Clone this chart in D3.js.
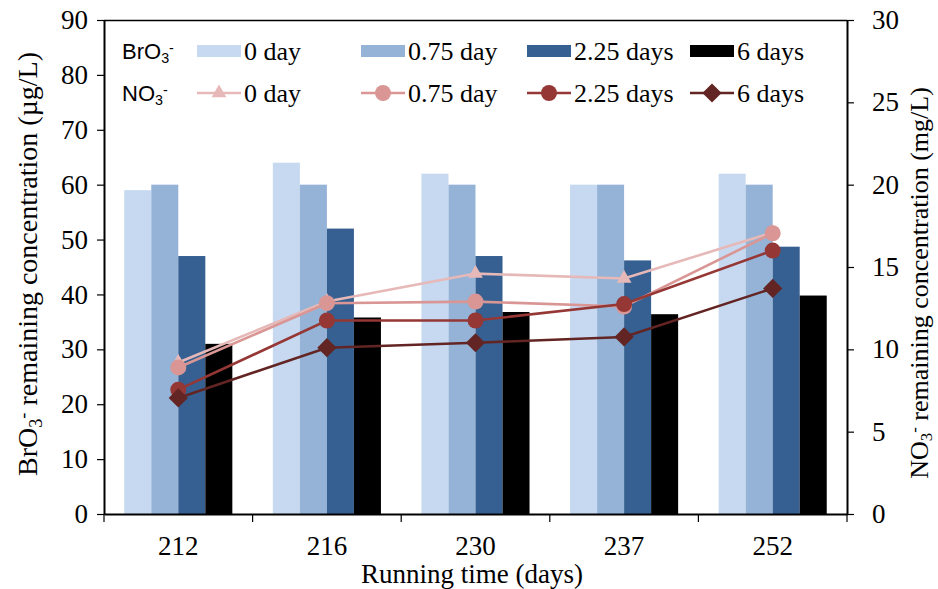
<!DOCTYPE html>
<html><head><meta charset="utf-8">
<script src="https://cdn.jsdelivr.net/npm/d3@7"></script>
<style>body{margin:0;background:#fff;} svg{display:block;} .serif{font-family:"Liberation Serif","Times New Roman",serif;} .sans{font-family:"Liberation Sans",Arial,sans-serif;}</style>
</head><body>
<svg id="c" width="938" height="589"></svg>
<script>
const categories = ["212","216","230","237","252"];
const barSeries = ["0 day","0.75 day","2.25 days","6 days"];
const bro3_0 = [59, 64, 62, 60, 62];
const bro3_075 = [60, 60, 60, 60, 60];
const bro3_225 = [47, 52, 47, 46.2, 48.7];
const bro3_6 = [31, 35.8, 36.8, 36.4, 39.8];
const no3_0 = [9.2, 12.9, 14.6, 14.3, 17.1];
const no3_075 = [8.9, 12.8, 12.9, 12.6, 17.05];
const no3_225 = [7.55, 11.75, 11.75, 12.75, 16.0];
const no3_6 = [7.05, 10.1, 10.4, 10.75, 13.7];
const leftTicks = [0,10,20,30,40,50,60,70,80,90];
const rightTicks = [0,5,10,15,20,25,30];

const barColors = ["#C6D9F1","#95B3D7","#366092","#000000"];
const lineColors = ["#E6B9B8","#D99694","#953735","#632523"];
const lineMarkers = ["triangle","circle","circle","diamond"];

const svg = d3.select("#c");
const L = 104, R = 847, T = 20, B = 514;

const x = d3.scaleBand().domain(categories).range([L, R]).paddingInner(0).paddingOuter(0);
const xb = d3.scaleBand().domain(barSeries).range([0, x.bandwidth()]).paddingOuter(0.75).paddingInner(0);
const yL = d3.scaleLinear().domain([0, 90]).range([B, T]);
const yR = d3.scaleLinear().domain([0, 30]).range([B, T]);

const barData = [bro3_0, bro3_075, bro3_225, bro3_6];
const lineData = [no3_0, no3_075, no3_225, no3_6];

// bars
barData.forEach((vals, si) => {
  svg.append("g").selectAll("rect").data(vals).enter().append("rect")
    .attr("x", (d, i) => x(categories[i]) + xb(barSeries[si]))
    .attr("width", xb.bandwidth())
    .attr("y", d => yL(d))
    .attr("height", d => B - yL(d))
    .attr("fill", barColors[si]);
});

// frame top
svg.append("line").attr("x1", L).attr("x2", R).attr("y1", T + 0.5).attr("y2", T + 0.5).attr("stroke", "#000").attr("stroke-width", 1.5);

// axes
const axL = svg.append("g").attr("transform", `translate(${L},0)`)
  .call(d3.axisLeft(yL).tickValues(leftTicks).tickSize(7).tickSizeOuter(0).tickPadding(9));
const axR = svg.append("g").attr("transform", `translate(${R},0)`)
  .call(d3.axisRight(yR).tickValues(rightTicks).tickSize(7).tickSizeOuter(0).tickPadding(18));
const axB = svg.append("g").attr("transform", `translate(0,${B})`)
  .call(d3.axisBottom(x).tickSize(0).tickSizeOuter(0).tickPadding(22));
[axL, axR, axB].forEach(g => {
  g.attr("font-family", null);
  g.selectAll("path.domain").attr("stroke", "#000").attr("stroke-width", 2);
  g.selectAll(".tick line").attr("stroke", "#000").attr("stroke-width", 1.2);
  g.selectAll("text").attr("class", "serif").attr("font-size", 27).attr("fill", "#000");
});
// category boundary ticks on x axis
const bounds = categories.map(c => x(c)).concat([R]);
svg.append("g").selectAll("line").data(bounds).enter().append("line")
  .attr("x1", d => d).attr("x2", d => d).attr("y1", B).attr("y2", B + 8)
  .attr("stroke", "#000").attr("stroke-width", 1.2);

function symFor(m) {
  if (m === "triangle") return d3.symbol().type(d3.symbolTriangle).size(95);
  if (m === "diamond") return d3.symbol().type(d3.symbolSquare).size(185);
  return d3.symbol().type(d3.symbolCircle).size(200);
}
function rot(m) { return m === "diamond" ? " rotate(45)" : ""; }

// lines
lineData.forEach((vals, si) => {
  const g = svg.append("g");
  const line = d3.line().x((d, i) => x(categories[i]) + x.bandwidth() / 2).y(d => yR(d));
  g.append("path").datum(vals).attr("d", line).attr("fill", "none")
    .attr("stroke", lineColors[si]).attr("stroke-width", 2.6);
  g.selectAll("path.m").data(vals).enter().append("path").attr("class", "m")
    .attr("d", symFor(lineMarkers[si]))
    .attr("transform", (d, i) => `translate(${x(categories[i]) + x.bandwidth() / 2},${yR(d)})` + rot(lineMarkers[si]))
    .attr("fill", lineColors[si]);
});

// axis titles
function chemLabel(sel, base, sub, sup, rest) {
  sel.append("tspan").text(base);
  sel.append("tspan").attr("baseline-shift", "-25%").attr("font-size", "0.65em").text(sub);
  sel.append("tspan").attr("baseline-shift", "45%").attr("font-size", "0.65em").text(sup);
  if (rest) sel.append("tspan").text(rest);
}
const tl = svg.append("text").attr("class", "serif").attr("transform", "translate(37,264) rotate(-90)")
  .attr("text-anchor", "middle").attr("font-size", 28).attr("fill", "#000");
chemLabel(tl, "BrO", "3", "-", " remaining concentration (\u00b5g/L)");
const tr = svg.append("text").attr("class", "serif").attr("transform", "translate(928,283) rotate(-90)")
  .attr("text-anchor", "middle").attr("font-size", 26).attr("fill", "#000");
chemLabel(tr, "NO", "3", "-", " remaining concentration (mg/L)");
svg.append("text").attr("class", "serif").attr("x", 472).attr("y", 583).attr("text-anchor", "middle")
  .attr("font-size", 27).attr("fill", "#000").text("Running time (days)");

// legend
const legX = [197, 361, 527, 690];
const legW = 44;
const row1 = 51, row2 = 93;
const lb1 = svg.append("text").attr("class", "sans").attr("x", 122).attr("y", row1 + 8).attr("font-size", 22).attr("fill", "#000");
chemLabel(lb1, "BrO", "3", "-", "");
const lb2 = svg.append("text").attr("class", "sans").attr("x", 122).attr("y", row2 + 8).attr("font-size", 22).attr("fill", "#000");
chemLabel(lb2, "NO", "3", "-", "");
barSeries.forEach((s, i) => {
  svg.append("rect").attr("x", legX[i]).attr("y", row1 - 6).attr("width", legW).attr("height", 12).attr("fill", barColors[i]);
  svg.append("text").attr("class", "serif").attr("x", legX[i] + legW + 3).attr("y", row1 + 9).attr("font-size", 26).attr("fill", "#000").text(s);
  svg.append("line").attr("x1", legX[i]).attr("x2", legX[i] + legW).attr("y1", row2).attr("y2", row2).attr("stroke", lineColors[i]).attr("stroke-width", 2.6);
  svg.append("path").attr("d", symFor(lineMarkers[i])).attr("transform", `translate(${legX[i] + legW / 2},${row2})` + rot(lineMarkers[i])).attr("fill", lineColors[i]);
  svg.append("text").attr("class", "serif").attr("x", legX[i] + legW + 3).attr("y", row2 + 9).attr("font-size", 26).attr("fill", "#000").text(s);
});
</script>
</body></html>
